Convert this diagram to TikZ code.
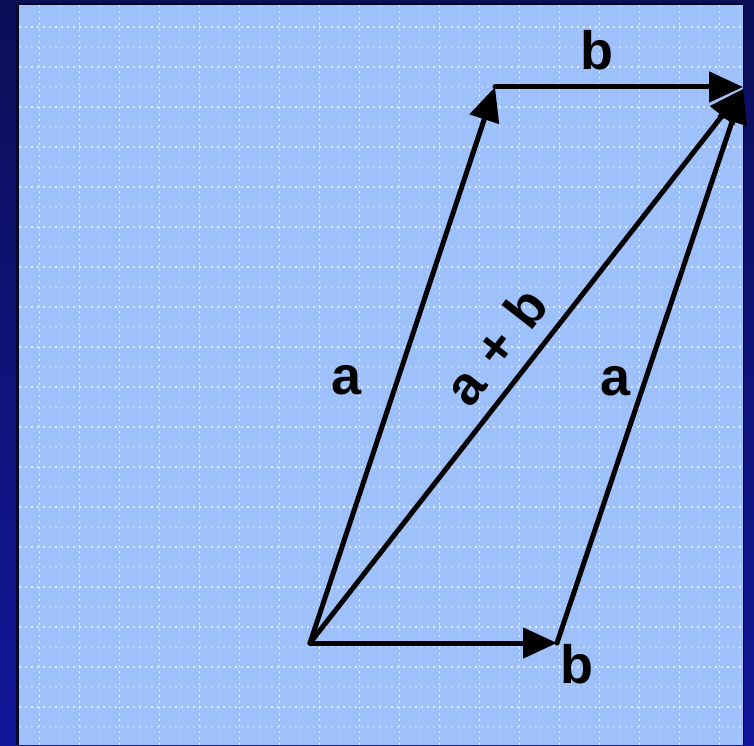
\documentclass[tikz,border=0pt]{standalone}
\usepackage{fontspec}
\setmainfont{Liberation Sans}
\usetikzlibrary{arrows.meta}
\definecolor{panel}{HTML}{9EC1FB}
\definecolor{navytop}{HTML}{0B0F58}
\definecolor{navybot}{HTML}{12179A}
\begin{document}
\begin{tikzpicture}[x=1pt,y=1pt,
  vec/.style={line width=5pt, line cap=round, -{Triangle[length=34pt,width=30pt]}},
  lbl/.style={font=\fontsize{54}{60}\selectfont\bfseries, inner sep=0pt},
  gridmajor/.style={white, opacity=0.7, line width=1.6pt, dash pattern=on 1.6pt off 4.4pt},
  gridminor/.style={white, opacity=0.3, line width=1.6pt, dash pattern=on 1.6pt off 4.4pt}]
\useasboundingbox (0,0) rectangle (754,745);
\shade[top color=navytop, bottom color=navybot] (0,0) rectangle (754,745);
\fill[black!55!navytop] (16,0) rectangle (744,742);
\fill[panel] (19,0) rectangle (743,740);
\foreach \k in {1,...,36} {
  \pgfmathsetmacro\xx{19.5+20*\k}
  \pgfmathsetmacro\yy{738-20*\k}
  \pgfmathparse{int(mod(\k,2))}
  \ifnum\pgfmathresult=1
    \draw[gridmajor] (\xx,0) -- (\xx,740);
    \draw[gridmajor] (19,\yy) -- (743,\yy);
  \else
    \draw[gridminor] (\xx,0) -- (\xx,740);
    \draw[gridminor] (19,\yy) -- (743,\yy);
  \fi
}
\coordinate (O) at (310,102);
\coordinate (B) at (557,102);
\coordinate (A) at (495,658);
\coordinate (P) at (743,656);
\coordinate (Q) at (743,658);
\draw[vec] (O) -- (B);
\draw[vec] (O) -- (A);
\draw[vec] (A) -- (Q);
\draw[vec] (B) -- (P);
\draw[vec] (O) -- (P) node[lbl, pos=0.495, sloped, above=14pt] (sum) {a\hspace{3pt} + \hspace{3pt}b};
\node[lbl] (la) at (347,365) {a};
\node[lbl] (ra) at (616,364) {a};
\node[lbl] (tb) at (597,695) {b};
\node[lbl] (bb) at (577,81) {b};
\end{tikzpicture}
\end{document}
